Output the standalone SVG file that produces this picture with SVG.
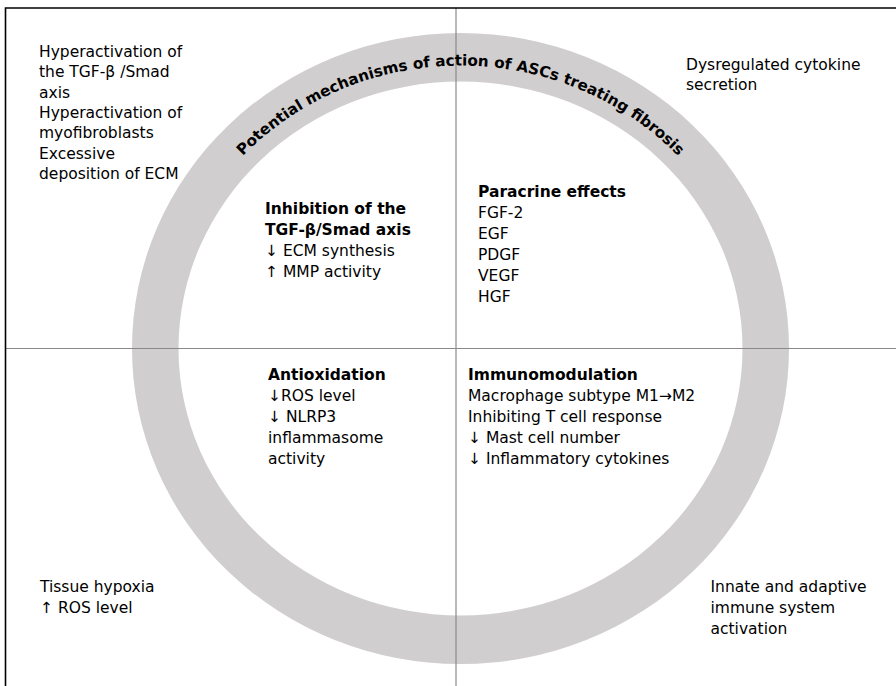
<svg xmlns="http://www.w3.org/2000/svg" width="896" height="686" viewBox="0 0 896 686">
<style>
text{font-family:"DejaVu Sans","Liberation Sans",sans-serif;font-size:15.5px;fill:#000}
.b{font-weight:bold}
.title{font-weight:bold;font-size:15.2px}
.div{stroke:#8a8a8a;stroke-width:1.2;fill:none}
.frame{stroke:#000;stroke-width:1.6;fill:none}
</style>
<defs>
<path id="arc" d="M163.5,348.5 A297,283 0 0 1 757.5,348.5"/>
</defs>
<rect width="896" height="686" fill="#fff"/>
<g id="ring">
<path fill="#d0cecf" fill-rule="evenodd" d="M132,348.5 A328.5,315.5 0 1 0 789,348.5 A328.5,315.5 0 1 0 132,348.5 Z M178.5,348.5 A282,267 0 1 0 742.5,348.5 A282,267 0 1 0 178.5,348.5 Z"/>
</g>
<g id="connectors">
<line class="div" x1="456" y1="8" x2="456" y2="686"/>
<line class="div" x1="5" y1="348.5" x2="896" y2="348.5"/>
</g>
<g id="frame">
<path class="frame" d="M5.5,686 V8 H896"/>
</g>
<g id="title">
<text class="title"><textPath href="#arc" startOffset="50%" text-anchor="middle">Potential mechanisms of action of ASCs treating fibrosis</textPath></text>
</g>
<g id="tl">
<text x="39" y="56.7">Hyperactivation of</text>
<text x="39" y="77.1">the TGF-β /Smad</text>
<text x="39" y="97.5">axis</text>
<text x="39" y="117.9">Hyperactivation of</text>
<text x="39" y="138.3">myofibroblasts</text>
<text x="39" y="158.7">Excessive</text>
<text x="39" y="179.1">deposition of ECM</text>
</g>
<g id="tr">
<text x="686" y="69.5">Dysregulated cytokine</text>
<text x="686" y="90.3">secretion</text>
</g>
<g id="m-tgf">
<text class="b" x="265" y="213.5">Inhibition of the</text>
<text class="b" x="265" y="234.5">TGF-β/Smad axis</text>
<text x="265" y="255.5">↓ ECM synthesis</text>
<text x="265" y="276.5">↑ MMP activity</text>
</g>
<g id="m-paracrine">
<text class="b" x="478" y="197">Paracrine effects</text>
<text x="478" y="218">FGF-2</text>
<text x="478" y="239">EGF</text>
<text x="478" y="260">PDGF</text>
<text x="478" y="281">VEGF</text>
<text x="478" y="302">HGF</text>
</g>
<g id="m-antiox">
<text class="b" x="268" y="380">Antioxidation</text>
<text x="268" y="401">↓ROS level</text>
<text x="268" y="422">↓ NLRP3</text>
<text x="268" y="443">inflammasome</text>
<text x="268" y="464">activity</text>
</g>
<g id="m-immuno">
<text class="b" x="468" y="380">Immunomodulation</text>
<text x="468" y="401">Macrophage subtype M1→M2</text>
<text x="468" y="422">Inhibiting T cell response</text>
<text x="468" y="443">↓ Mast cell number</text>
<text x="468" y="464">↓ Inflammatory cytokines</text>
</g>
<g id="bl">
<text x="40" y="592.3">Tissue hypoxia</text>
<text x="40" y="613.3">↑ ROS level</text>
</g>
<g id="br">
<text x="710.5" y="592.3">Innate and adaptive</text>
<text x="710.5" y="613.3">immune system</text>
<text x="710.5" y="634">activation</text>
</g>
</svg>
